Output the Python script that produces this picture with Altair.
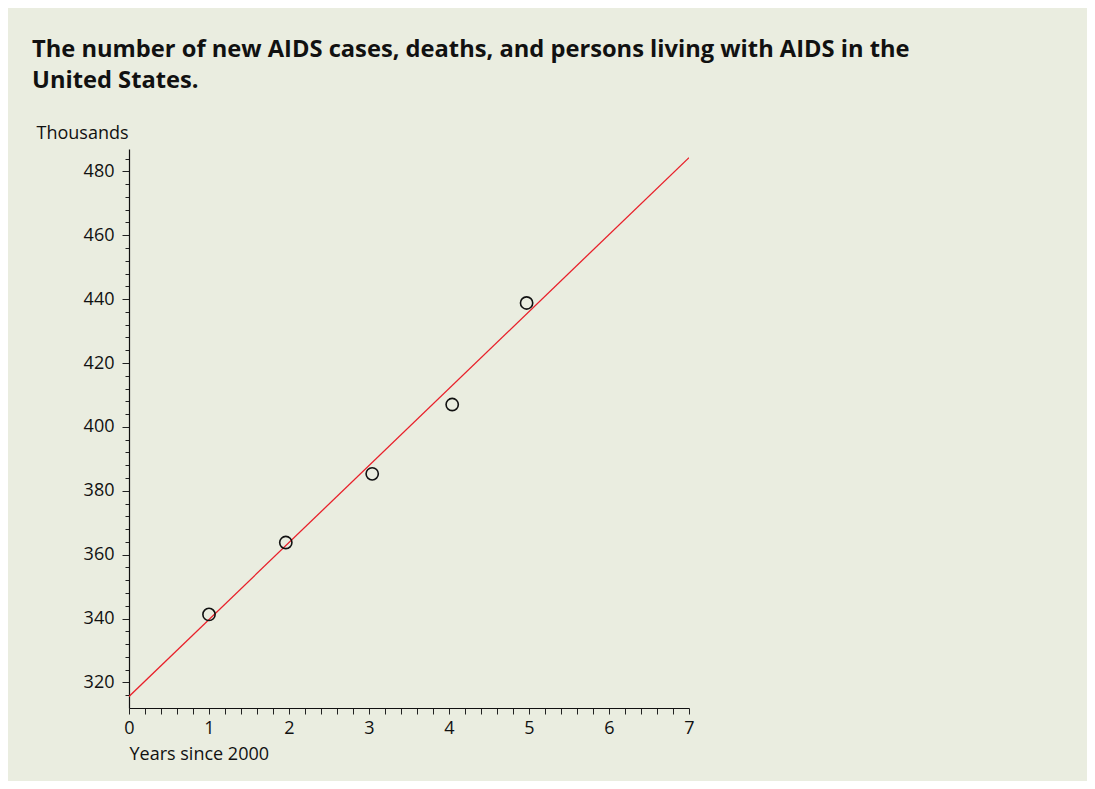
import altair as alt
import pandas as pd

# Data
years = [1.0, 1.96, 3.04, 4.04, 4.97]
thousands = [341.3, 363.8, 385.3, 407.0, 438.8]

fit_years = [0, 7]
fit_thousands = [315.6, 484.3]

x_ticks = [round(i * 0.2, 1) for i in range(36)]
y_ticks = list(range(316, 487, 4))

title_lines = ["The number of new AIDS cases, deaths, and persons living with AIDS in the",
               "United States."]

pts = pd.DataFrame({"x": years, "y": thousands})
fit = pd.DataFrame({"x": fit_years, "y": fit_thousands})

FONT = "Open Sans"
BG = "#eaede0"

x_scale = alt.Scale(domain=[0, 7], nice=False, zero=False)
y_scale = alt.Scale(domain=[312, 487], nice=False, zero=False)

x_axis = alt.Axis(
    values=x_ticks,
    tickCount=200,
    labelExpr="datum.value % 1 === 0 ? format(datum.value, 'd') : ''",
    labelOverlap=False,
    grid=False, tickSize=6, tickColor="#222222", tickWidth=1,
    domainColor="#111111", domainWidth=1.2,
    labelFont=FONT, labelFontSize=18, labelColor="#111111", labelPadding=5,
    labelFlush=False,
    title="Years since 2000", titleFont=FONT, titleFontSize=18, titleFontWeight="normal",
    titleColor="#111111", titleX=0, titleY=51, titleAlign="left", titleBaseline="alphabetic",
    titleAnchor="start",
)

y_axis = alt.Axis(
    values=y_ticks,
    tickCount=200,
    labelExpr="datum.value % 20 === 0 ? format(datum.value, 'd') : ''",
    labelOverlap=False,
    grid=False,
    tickSize={"condition": {"test": "datum.value % 20 === 0", "value": 7}, "value": 4},
    tickColor="#222222", tickWidth=1,
    domainColor="#111111", domainWidth=1.2,
    labelFont=FONT, labelFontSize=18, labelColor="#111111", labelPadding=8,
    labelFlush=False,
    title="Thousands", titleFont=FONT, titleFontSize=18, titleFontWeight="normal",
    titleColor="#111111", titleAngle=0, titleX=-93, titleY=-11, titleAlign="left",
    titleBaseline="alphabetic", titleAnchor="start",
)

line = alt.Chart(fit).mark_line(color="#e8202a", strokeWidth=1.3, clip=True).encode(
    x=alt.X("x:Q", scale=x_scale, axis=x_axis),
    y=alt.Y("y:Q", scale=y_scale, axis=y_axis),
)

points = alt.Chart(pts).mark_point(
    shape="circle", filled=False, stroke="#111111", strokeWidth=1.6, size=150, opacity=1
).encode(
    x=alt.X("x:Q", scale=x_scale),
    y=alt.Y("y:Q", scale=y_scale),
)

chart = alt.layer(line, points).properties(
    width=560,
    height=559,
    autosize=alt.AutoSizeParams(type="none"),
    padding={"left": 121, "top": 141, "right": 398, "bottom": 73},
    background=BG,
    title=alt.TitleParams(
        text=title_lines,
        font=FONT, fontSize=23.7, fontWeight="bold", color="#111111",
        anchor="start", frame="group", align="left",
        lineHeight=31.7, dx=-97, offset=31,
    ),
).configure_view(stroke=None)

chart.save("out.html", embed_options={"renderer": "svg", "actions": False})
